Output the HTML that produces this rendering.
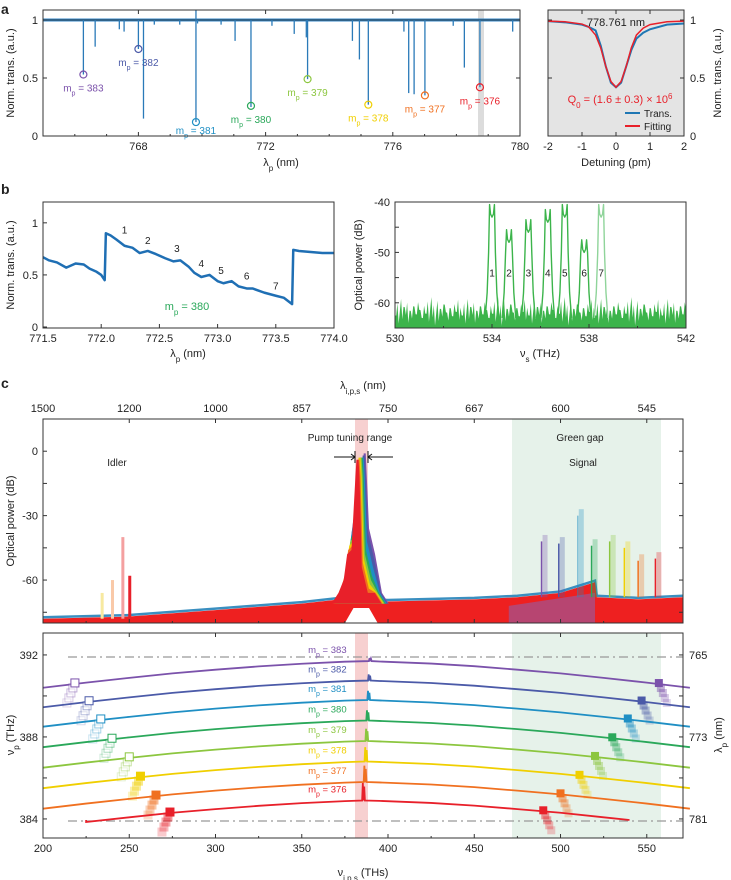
<!DOCTYPE html>
<html><head><meta charset="utf-8"><style>
html,body{margin:0;padding:0;background:#fff;}
svg{display:block;font-family:"Liberation Sans",sans-serif;}
text{font-size:11px;fill:#222;}
</style></head><body>
<svg id="fig" width="731" height="880" viewBox="0 0 731 880" xmlns="http://www.w3.org/2000/svg">
<rect x="548" y="10" width="136" height="126" fill="#e4e4e4"/>
<rect x="512" y="419" width="149" height="204" fill="#e6f2ea"/>
<rect x="512" y="633" width="149" height="205" fill="#e6f2ea"/>
<rect x="355" y="419" width="13" height="204" fill="#f7d0d0"/>
<rect x="355" y="633" width="13" height="205" fill="#f7d0d0"/>
<rect x="478" y="10" width="6" height="126" fill="#dcdcdc"/>
<g id="data"></g>
<g fill="none" stroke="#333" stroke-width="1">
<rect x="43" y="10" width="477" height="126"/>
<rect x="548" y="10" width="136" height="126"/>
<rect x="43" y="202" width="291" height="126"/>
<rect x="395" y="202" width="291" height="126"/>
<rect x="43" y="419" width="640" height="204"/>
<rect x="43" y="633" width="640" height="205"/>
</g>
<text x="1" y="14" style="font-size:14px;font-weight:bold">a</text>
<text x="1" y="194" style="font-size:14px;font-weight:bold">b</text>
<text x="1" y="388" style="font-size:14px;font-weight:bold">c</text>
<text x="281" y="166" text-anchor="middle">λ<tspan baseline-shift="sub" font-size="8">p</tspan> (nm)</text>
<text x="616" y="166" text-anchor="middle">Detuning (pm)</text>
<text transform="translate(14,73) rotate(-90)" text-anchor="middle">Norm. trans. (a.u.)</text>
<text transform="translate(721,73) rotate(-90)" text-anchor="middle">Norm. trans. (a.u.)</text>
<text x="616" y="26" text-anchor="middle">778.761 nm</text>
<text x="620" y="103" text-anchor="middle" style="fill:#e8202a">Q<tspan baseline-shift="sub" font-size="8">0</tspan> = (1.6 ± 0.3) × 10<tspan baseline-shift="super" font-size="8">6</tspan></text>
<line x1="625" y1="113" x2="640" y2="113" stroke="#1f77b4" stroke-width="2"/>
<text x="644" y="117" style="font-size:10px">Trans.</text>
<line x1="625" y1="126" x2="640" y2="126" stroke="#e8202a" stroke-width="2"/>
<text x="644" y="130" style="font-size:10px">Fitting</text>
<text x="188" y="357" text-anchor="middle">λ<tspan baseline-shift="sub" font-size="8">p</tspan> (nm)</text>
<text x="540" y="357" text-anchor="middle">ν<tspan baseline-shift="sub" font-size="8">s</tspan> (THz)</text>
<text transform="translate(14,265) rotate(-90)" text-anchor="middle">Norm. trans. (a.u.)</text>
<text transform="translate(362,265) rotate(-90)" text-anchor="middle">Optical power (dB)</text>
<text x="187" y="310" text-anchor="middle" style="fill:#2aa85a">m<tspan baseline-shift="sub" font-size="8">p</tspan> = 380</text>
<text x="363" y="389" text-anchor="middle">λ<tspan baseline-shift="sub" font-size="8">i,p,s</tspan> (nm)</text>
<text x="363" y="876" text-anchor="middle">ν<tspan baseline-shift="sub" font-size="8">i,p,s</tspan> (THs)</text>
<text transform="translate(14,521) rotate(-90)" text-anchor="middle">Optical power (dB)</text>
<text transform="translate(14,735) rotate(-90)" text-anchor="middle">ν<tspan baseline-shift="sub" font-size="8">p</tspan> (THz)</text>
<text transform="translate(722,735) rotate(-90)" text-anchor="middle">λ<tspan baseline-shift="sub" font-size="8">p</tspan> (nm)</text>
<text x="350" y="441" text-anchor="middle" style="font-size:10px">Pump tuning range</text>
<text x="580" y="441" text-anchor="middle" style="font-size:10px">Green gap</text>
<text x="117" y="466" text-anchor="middle" style="font-size:10px">Idler</text>
<text x="583" y="466" text-anchor="middle" style="font-size:10px">Signal</text>
</svg>
<script>
const NS='http://www.w3.org/2000/svg';
const svg=document.getElementById('fig');
const G=document.getElementById('data');
function mk(tag,attrs,parent){const e=document.createElementNS(NS,tag);for(const k in attrs)e.setAttribute(k,attrs[k]);(parent||G).appendChild(e);return e;}
function lin(d0,d1,r0,r1){return v=>r0+(v-d0)*(r1-r0)/(d1-d0);}

// ---------- data ----------
const modeNumbers=[383,382,381,380,379,378,377,376];
const modeColors=['#7b52ab','#4b5aa8','#1f8fc4','#2aa85a','#8cc63f','#f0cf00','#f07020','#e8202a'];
// panel a
const aDipWl=[766.27,766.64,767.4,767.55,768.0,768.16,768.5,769.3,769.81,769.86,770.6,771.04,771.54,772.2,772.9,773.28,773.32,774.73,774.95,775.23,776.35,776.5,776.67,777.01,777.9,778.25,778.74,779.77];
const aDipT=[0.53,0.77,0.92,0.9,0.75,0.15,0.96,0.96,0.12,0.97,0.96,0.82,0.25,0.95,0.88,0.85,0.49,0.82,0.66,0.27,0.9,0.37,0.36,0.35,0.95,0.59,0.42,0.9];
const aModeWl=[766.27,768.0,769.81,771.54,773.32,775.23,777.01,778.74];
const aModeT=[0.53,0.75,0.12,0.26,0.49,0.27,0.35,0.42];
const zDet=[-2,-1.5,-1,-0.8,-0.6,-0.45,-0.3,-0.15,0,0.15,0.3,0.45,0.6,0.8,1,1.5,2];
const zTrans=[0.99,0.98,0.96,0.94,0.91,0.78,0.6,0.46,0.42,0.46,0.6,0.74,0.84,0.89,0.92,0.96,0.97];
const zFit=[0.99,0.985,0.965,0.94,0.87,0.76,0.6,0.47,0.42,0.47,0.6,0.76,0.87,0.93,0.96,0.985,0.99];
// panel b left
const bWl=[771.5,771.55,771.62,771.7,771.78,771.85,771.9,771.96,772.0,772.03,772.04,772.08,772.13,772.2,772.27,772.33,772.4,772.47,772.55,772.62,772.68,772.75,772.8,772.86,772.93,773.0,773.05,773.12,773.18,773.25,773.3,773.4,773.5,773.57,773.64,773.65,773.7,773.8,773.9,774.0];
const bT=[0.67,0.64,0.62,0.57,0.61,0.6,0.56,0.53,0.5,0.45,0.9,0.88,0.84,0.78,0.76,0.71,0.73,0.7,0.66,0.63,0.64,0.58,0.52,0.48,0.5,0.44,0.42,0.44,0.39,0.37,0.37,0.33,0.3,0.28,0.22,0.74,0.73,0.72,0.71,0.71];
const bMarkLabels=['1','2','3','4','5','6','7'];
const bMarkWl=[772.2,772.4,772.65,772.86,773.03,773.25,773.5];
const bMarkT=[0.86,0.76,0.68,0.54,0.47,0.42,0.32];
// panel b right
const sPeakF=[534.0,534.7,535.5,536.3,537.0,537.8,538.5];
const sPeakP=[-43,-48,-46,-44,-43,-50,-43];
// panel c top
const floorF=[200,250,300,350,372,400,450,475,500,520,521,545,571];
const floorP=[-78,-77,-74,-71,-69,-70,-69,-68,-66,-61,-68,-69,-68];
const pumpCenter=[386.5,385.9,385.3,384.7,384.1,383.5,382.9,382.3];
const pumpPeak=[-1,-2,-3,-3,-3,-3,-4,-4];
const pumpShoulder=[-30,-32,-36,-40,-42,-44,-46,-48];
const sigF=[489,499,510,518,528.5,537,545,555];
const sigP=[-42,-43,-30,-44,-42,-45,-51,-50];
const idlF=[250,246,240,234];
const idlP=[-58,-40,-60,-66];
const idlColors=['#e8202a','#f4a0a0','#f9c9a8','#f7e9a0'];
// panel c bottom
const shapeF=[200,225,250,275,300,325,350,375,385,395,425,450,475,500,525,550,575];
const shapeOff=[-1.3,-1.05,-0.82,-0.6,-0.42,-0.26,-0.13,-0.03,0,-0.02,-0.12,-0.25,-0.42,-0.6,-0.82,-1.05,-1.3];
const curvePeak=[391.7,390.75,389.8,388.8,387.8,386.8,385.8,384.9];
const spikeF=[389.5,389.0,388.6,388.0,387.5,387.0,386.5,385.6];
const spikeH=[0.15,0.3,0.45,0.5,0.6,0.7,0.8,0.85];
const idlerF=[218.5,226.7,233.5,240,250,256.5,265.5,273.6];
const signalF=[557,547,539,530,520,511,500,490];

// ---------- scales ----------
const xA=lin(765,780,43,520), yA=lin(0,1,136,20);
const xR=lin(-2,2,548,684);
const xB=lin(771.5,774,43,334), yB=lin(0,1.2,327,202);
const xS=lin(530,542,395,686), yS=lin(-65,-40,328,202);
const xC=lin(200,571,43,683), yC=lin(-80,15,623,419);
const yD=lin(383.07,393.07,838,633);

// ---------- ticks ----------
function xticks(scale,vals,labels,yBase,top,minor){
  vals.forEach((v,i)=>{
    const t=mk('line',{x1:scale(v),x2:scale(v),y1:yBase,y2:yBase-4,stroke:'#333'},svg);
    
    
    if(top!==null){const t2=mk('line',{x1:scale(v),x2:scale(v),y1:top,y2:top+4,stroke:'#333'},svg);
    
    }
    if(labels){const l=mk('text',{x:scale(v),y:yBase+14,'text-anchor':'middle'},svg);l.textContent=labels[i];
    
    }
  });
  (minor||[]).forEach(v=>{const t=mk('line',{x1:scale(v),x2:scale(v),y1:yBase,y2:yBase-2,stroke:'#333'},svg);
    
    });
}
function yticks(scale,vals,labels,xBase,right,anchorRight){
  vals.forEach((v,i)=>{
    const t=mk('line',{x1:xBase,x2:xBase+4,y1:scale(v),y2:scale(v),stroke:'#333'},svg);
    
    
    if(right!==null){const t2=mk('line',{x1:right,x2:right-4,y1:scale(v),y2:scale(v),stroke:'#333'},svg);
    
    }
    if(labels){const l=mk('text',{x:anchorRight?right+6:xBase-5,y:scale(v)+4,'text-anchor':anchorRight?'start':'end'},svg);l.textContent=labels[i];
    
    }
  });
}
xticks(xA,[768,772,776,780],['768','772','776','780'],136,10,[766,767,769,770,771,773,774,775,777,778,779]);
yticks(yA,[0,0.5,1],['0','0.5','1'],43,520,false);
xticks(xR,[-2,-1,0,1,2],['-2','-1','0','1','2'],136,10,[]);
yticks(yA,[0,0.5,1],['0','0.5','1'],548,684,true);
xticks(xB,[771.5,772,772.5,773,773.5,774],['771.5','772.0','772.5','773.0','773.5','774.0'],328,null,[]);
yticks(yB,[0,0.5,1],['0','0.5','1'],43,null,false);
xticks(xS,[530,534,538,542],['530','534','538','542'],328,null,[532,536,540]);
yticks(yS,[-40,-50,-60],['-40','-50','-60'],395,null,false);
yticks(yS,[-45,-55],null,395,null,false);
xticks(xC,[200,250,300,350,400,450,500,550],null,623,419,[225,275,325,375,425,475,525]);
const topLab=['1500','1200','1000','857','750','667','600','545'];
[200,250,300,350,400,450,500,550].forEach((v,i)=>{const l=mk('text',{x:xC(v),y:412,'text-anchor':'middle'},svg);l.textContent=topLab[i];
  
  });
yticks(yC,[0,-30,-60],['0','-30','-60'],43,683,false);
yticks(yC,[-15,-45,-75],null,43,683,false);
xticks(xC,[200,250,300,350,400,450,500,550],['200','250','300','350','400','450','500','550'],838,633,[225,275,325,375,425,475,525]);
yticks(yD,[392,388,384],['392','388','384'],43,683,false);
yticks(yD,[390,386],null,43,683,false);
[[392,'765'],[388,'773'],[384,'781']].forEach(p=>{const l=mk('text',{x:689,y:yD(p[0])+4},svg);l.textContent=p[1];
  
  });

// ---------- panel a ----------
const base=mk('line',{x1:43,x2:520,y1:yA(1),y2:yA(1),stroke:'#3a8ac8','stroke-width':3});


const base2=mk('line',{x1:43,x2:520,y1:yA(1),y2:yA(1),stroke:'#222','stroke-width':0.8});


aDipWl.forEach((w,i)=>{const d=mk('line',{x1:xA(w),x2:xA(w),y1:yA(1),y2:yA(aDipT[i]),stroke:'#2a7ab8','stroke-width':1.3});
  
  });
const sp=mk('line',{x1:xA(769.81),x2:xA(769.81),y1:10,y2:yA(1),stroke:'#2a7ab8','stroke-width':1.3});


aModeWl.forEach((w,i)=>{
  const c=mk('circle',{cx:xA(w),cy:yA(aModeT[i]),r:3.5,fill:'none',stroke:modeColors[i],'stroke-width':1.2});
  
  
  const t=mk('text',{x:xA(w),y:Math.min(yA(aModeT[i])+17,134),'text-anchor':'middle',style:'font-size:10px;fill:'+modeColors[i]});
  t.innerHTML='m<tspan baseline-shift="sub" font-size="7">p</tspan> = '+modeNumbers[i];
  
  
});
const zt=mk('polyline',{points:zDet.map((d,i)=>xR(d)+','+yA(zTrans[i])).join(' '),fill:'none',stroke:'#1f77b4','stroke-width':2});


const zf=mk('polyline',{points:zDet.map((d,i)=>xR(d)+','+yA(zFit[i])).join(' '),fill:'none',stroke:'#e8202a','stroke-width':1.5});



// ---------- panel b ----------
const bl=mk('polyline',{points:bWl.map((w,i)=>xB(w)+','+yB(bT[i])).join(' '),fill:'none',stroke:'#1f6fb4','stroke-width':2.5,'stroke-linejoin':'round'});


bMarkLabels.forEach((s,i)=>{const t=mk('text',{x:xB(bMarkWl[i]),y:yB(bMarkT[i])-4,'text-anchor':'middle',style:'font-size:10px'});t.textContent=s;
  
  });
// noise floor (texture)
let np=[xS(530)+','+yS(-65)];
for(let k=0;k<=240;k++){const f=530+k*0.05;const v=-62.5+((k*37)%11)/11*4-((k*13)%5)*0.5;np.push(xS(f)+','+yS(v));}
np.push(xS(542)+','+yS(-65));
const nf=mk('polygon',{points:np.join(' '),fill:'#3cb44b'});


sPeakF.forEach((f,i)=>{const p=sPeakP[i];
  const pts=[[f-0.28,-63],[f-0.2,-58],[f-0.14,-50],[f-0.1,p+2.5],[f-0.06,p+0.6],[f,p],[f+0.06,p+0.6],[f+0.1,p+2.5],[f+0.14,-50],[f+0.2,-58],[f+0.28,-63]];
  const e=mk('polyline',{points:pts.map(q=>xS(q[0])+','+yS(q[1])).join(' '),fill:'none',stroke:i==6?'#8fd49a':'#3cb44b','stroke-width':1.4,'stroke-linejoin':'round'});
  
  
  const t=mk('text',{x:xS(f),y:yS(-54)+4,'text-anchor':'middle',style:'font-size:10px'});t.textContent=String(i+1);
  
  
});

// ---------- panel c top ----------
const fl=mk('polyline',{points:floorF.map((f,i)=>xC(f)+','+(yC(floorP[i])-1.5)).join(' '),fill:'none',stroke:'#3a8fc0','stroke-width':2.5});


const fp=mk('polygon',{points:[xC(200)+','+yC(-80)].concat(floorF.map((f,i)=>xC(f)+','+yC(floorP[i]))).concat([xC(571)+','+yC(-80)]).join(' '),fill:'#ee2020'});


const pr=mk('polygon',{points:[xC(470)+','+yC(-80),xC(470)+','+yC(-72),xC(520)+','+yC(-66),xC(520)+','+yC(-80)].join(' '),fill:'#8a64b4',opacity:0.55});


pumpCenter.forEach((c,i)=>{const p=pumpPeak[i],s=pumpShoulder[i];
  const pts=[[c-15,-71],[c-11,-66],[c-8,s-12],[c-6,s],[c-3.5,s+2],[c-1.2,-12],[c-0.6,p],[c+0.6,p],[c+1.2,-12],[c+2.5,s-6],[c+6,s-18],[c+10,-66],[c+14,-71]];
  const e=mk('polygon',{points:pts.map(q=>xC(q[0])+','+yC(q[1])).join(' '),fill:modeColors[i]});
  
  
});
const hole=mk('polygon',{points:[[375,-80],[380,-73],[389,-73],[394,-80]].map(q=>xC(q[0])+','+yC(q[1])).join(' '),fill:'#fff'});


sigF.forEach((f,i)=>{
  const pale=mk('rect',{x:xC(f)+1,y:yC(sigP[i]+3),width:5,height:yC(-68)-yC(sigP[i]+3),fill:modeColors[i],opacity:0.3});
  
  
  const e=mk('line',{x1:xC(f),x2:xC(f),y1:yC(-68),y2:yC(sigP[i]),stroke:modeColors[i],'stroke-width':1.5,opacity:i==2?0.5:1});
  
  
});
idlF.forEach((f,i)=>{const e=mk('rect',{x:xC(f)-1,y:yC(idlP[i]),width:3,height:yC(-78)-yC(idlP[i]),fill:idlColors[i]});
  
  });
// pump arrows
const arr=[[334,355],[393,368]];
arr.forEach(a=>{const l=mk('line',{x1:a[0],x2:a[1],y1:457,y2:457,stroke:'#111'});
  
  
  const d=a[1]>a[0]?-4:4;
  const h=mk('polyline',{points:(a[1]+d)+',454 '+a[1]+',457 '+(a[1]+d)+',460',fill:'none',stroke:'#111'});
  
  
  const b=mk('line',{x1:a[1],x2:a[1],y1:451,y2:463,stroke:'#111'});
  
  
});

// ---------- panel c bottom ----------
[391.9,383.9].forEach(v=>{const l=mk('line',{x1:68,x2:683,y1:yD(v),y2:yD(v),stroke:'#999','stroke-width':1.2,'stroke-dasharray':'9 4 2 4'});
  
  });
curvePeak.forEach((pk,i)=>{
  let pts=[];
  shapeF.forEach((f,j)=>{
    if(i==7&&(f<225||f>540))return;
    if(f==385){const sf=spikeF[i];pts.push([sf-0.6,pk]);pts.push([sf-0.2,pk+spikeH[i]]);pts.push([sf+0.1,pk]);pts.push([sf+0.6,pk+spikeH[i]*0.8]);pts.push([sf+1,pk]);return;}
    pts.push([f,pk+shapeOff[j]]);
  });
  if(i==7){pts.unshift([225,pk-1.05+0.1]);pts.push([540,pk-0.95]);}
  pts.sort((a,b)=>a[0]-b[0]);
  const e=mk('polyline',{points:pts.map(q=>xC(q[0])+','+yD(q[1])).join(' '),fill:'none',stroke:modeColors[i],'stroke-width':1.8});
  
  
  const t=mk('text',{x:xC(376),y:yD(pk)-8,'text-anchor':'end',style:'font-size:9.5px;fill:'+modeColors[i]});
  t.innerHTML='m<tspan baseline-shift="sub" font-size="7">p</tspan> = '+modeNumbers[i];
  
  
  function off(f){for(let j=0;j<shapeF.length-1;j++){if(f>=shapeF[j]&&f<=shapeF[j+1]){const r=(f-shapeF[j])/(shapeF[j+1]-shapeF[j]);return shapeOff[j]+r*(shapeOff[j+1]-shapeOff[j]);}}return 0;}
  const open=i<5;
  for(let k=4;k>=0;k--){
    const ix=xC(idlerF[i])-k*2, iy=yD(pk+off(idlerF[i]))+k*5;
    const sq=mk('rect',{x:ix-4,y:iy-5,width:8,height:8,fill:open?'#fff':modeColors[i],stroke:modeColors[i],'stroke-width':1,opacity:k==0?1:0.55-k*0.08});
    
    
    const sx=xC(signalF[i])+k*2, sy=yD(pk+off(signalF[i]))+k*5;
    const sq2=mk('rect',{x:sx-4,y:sy-5,width:8,height:8,fill:modeColors[i],opacity:k==0?1:0.55-k*0.08});
    
    
  }
});
</script>
</body></html>
